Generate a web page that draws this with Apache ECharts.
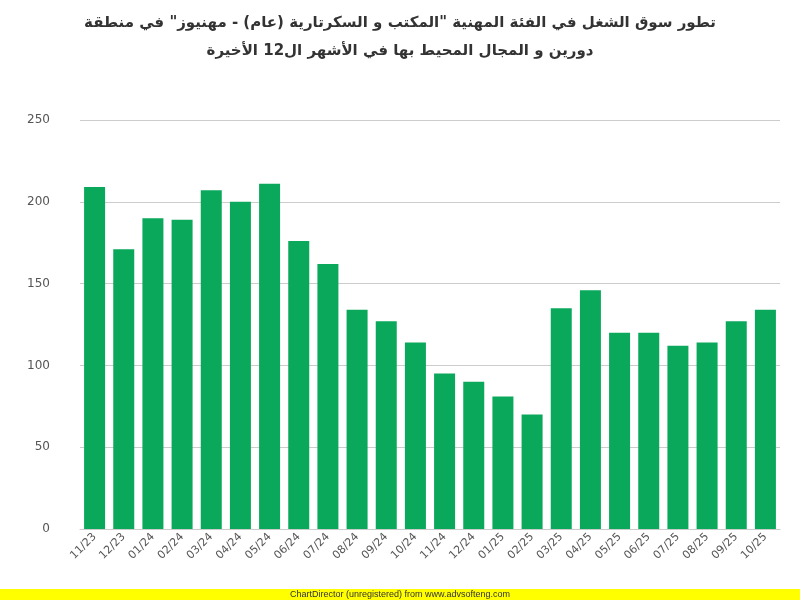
<!DOCTYPE html>
<html><head><meta charset="utf-8">
<script src="https://cdn.jsdelivr.net/npm/echarts@6/dist/echarts.min.js"></script>
<style>html,body{margin:0;padding:0;background:#fff}#c{width:800px;height:600px}</style>
</head><body><div id="c"></div>
<script>
const categories=["11/23","12/23","01/24","02/24","03/24","04/24","05/24","06/24","07/24","08/24","09/24","10/24","11/24","12/24","01/25","02/25","03/25","04/25","05/25","06/25","07/25","08/25","09/25","10/25"];
const values=[209,171,190,189,207,200,211,176,162,134,127,114,95,90,81,70,135,146,120,120,112,114,127,134];
const yTicks=[0,50,100,150,200,250];
const titleLine1='تطور سوق الشغل في الفئة المهنية "المكتب و السكرتارية (عام) - مهنيوز" في منطقة';
const titleLine2='دورين و المجال المحيط بها في الأشهر ال12 الأخيرة';
const footer='ChartDirector (unregistered) from www.advsofteng.com';
const chart=echarts.init(document.getElementById('c'));
chart.setOption({
  animation:false,
  title:{text:titleLine1+'\n'+titleLine2,left:'center',top:4,
    textStyle:{fontFamily:'DejaVu Sans',fontWeight:'bold',fontSize:15,color:'#333',lineHeight:28}},
  grid:{left:80,right:20,top:120,bottom:71},
  xAxis:{type:'category',data:categories,
    axisLine:{lineStyle:{color:'#ccc'}},axisTick:{show:false},
    axisLabel:{rotate:45,color:'#555',fontSize:11,fontFamily:'DejaVu Sans',interval:0,margin:6}},
  yAxis:{type:'value',min:0,max:250,interval:50,
    axisLine:{show:false},axisTick:{show:false},
    splitLine:{lineStyle:{color:'#ccc'}},
    axisLabel:{color:'#555',fontSize:12,fontFamily:'DejaVu Sans',margin:30,
      formatter:v=>yTicks.includes(v)?String(v):''}},
  series:[{type:'bar',data:values,barCategoryGap:'28%',itemStyle:{color:'#0aa85a'}}],
  graphic:[
    {type:'rect',left:0,top:589,shape:{width:800,height:11},style:{fill:'#ffff00'}},
    {type:'text',left:'center',top:590,style:{text:footer,fontSize:9,fill:'#333',fontFamily:'Liberation Sans'}}
  ]
});
</script></body></html>
